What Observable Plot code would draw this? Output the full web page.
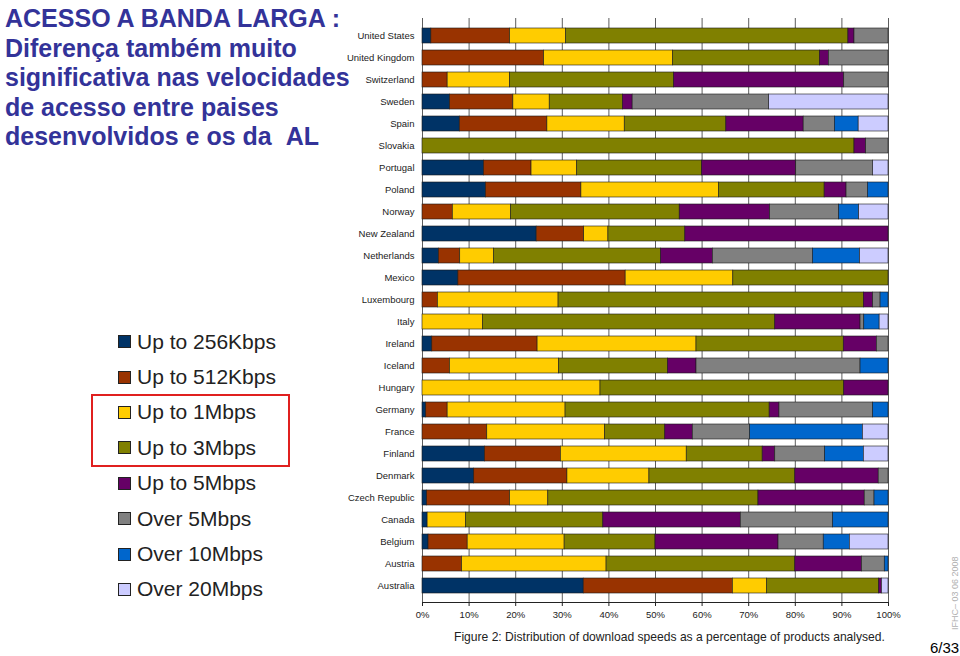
<!DOCTYPE html>
<html>
<head>
<meta charset="utf-8">
<script src="https://cdn.jsdelivr.net/npm/d3@7"></script>
<script src="https://cdn.jsdelivr.net/npm/@observablehq/plot@0.6"></script>
<style>
  html, body { margin: 0; padding: 0; background: #fff; }
  #page { position: relative; width: 960px; height: 656px; overflow: hidden; font-family: "Liberation Sans", Arial, sans-serif; }
  #chart { position: absolute; left: 0; top: 0; }
  #title { position: absolute; left: 5px; top: 4px; font-weight: bold; font-size: 25px; line-height: 29.5px; color: #333399; white-space: nowrap; }
  #legend { position: absolute; left: 118px; top: 324px; }
  .item { display: flex; align-items: center; height: 35.4px; font-size: 21px; color: #222; white-space: nowrap; }
  .sw { width: 11px; height: 11px; border: 1px solid #222; margin-right: 6px; }
  #redbox { position: absolute; left: 91px; top: 394px; width: 199px; height: 73px; border: 2px solid #e0201f; box-sizing: border-box; }
  #caption { position: absolute; left: 454px; top: 630px; font-size: 12.1px; color: #222; white-space: nowrap; }
  #pagenum { position: absolute; left: 930px; top: 639px; font-size: 15px; color: #000; }
  #stamp { position: absolute; left: 950px; top: 630px; transform-origin: 0 0; transform: rotate(-90deg); font-size: 9px; color: #b0b0b0; white-space: nowrap; }
</style>
</head>
<body>
<div id="page">
  <div id="chart"></div>
  <div id="title"></div>
  <div id="legend"></div>
  <div id="redbox"></div>
  <div id="caption"></div>
  <div id="pagenum"></div>
  <div id="stamp"></div>
</div>
<script>
const titleLines = [
  "ACESSO A BANDA LARGA :",
  "Diferença também muito",
  "significativa nas velocidades",
  "de acesso entre paises",
  "desenvolvidos e os da  AL"
];
const captionText = "Figure 2: Distribution of download speeds as a percentage of products analysed.";
const pageText = "6/33";
const stampText = "IFHC– 03 06 2008";

const countries = ["United States","United Kingdom","Switzerland","Sweden","Spain","Slovakia","Portugal","Poland","Norway","New Zealand","Netherlands","Mexico","Luxembourg","Italy","Ireland","Iceland","Hungary","Germany","France","Finland","Denmark","Czech Republic","Canada","Belgium","Austria","Australia"];
const categories = ["Up to 256Kbps","Up to 512Kbps","Up to 1Mbps","Up to 3Mbps","Up to 5Mbps","Over 5Mbps","Over 10Mbps","Over 20Mbps"];
const colors = ["#003366","#993300","#ffcc00","#808000","#660066","#808080","#0066cc","#ccccff"];

// values in percent, one per country (same order as countries)
const upTo256K = [1.9,0,0,5.9,8.0,0,13.2,13.6,0,24.5,3.5,7.7,0,0,2.1,0,0,0.8,0,13.4,11.1,1.0,1.1,1.3,0,34.6];
const upTo512K = [16.9,26.1,5.4,13.6,18.8,0,10.2,20.5,6.5,10.2,4.6,35.9,3.3,0,22.6,5.9,0,4.6,13.9,16.3,20.0,17.8,0,8.4,8.5,32.0];
const upTo1M   = [12.0,27.7,13.4,7.8,16.6,0,9.8,29.5,12.5,5.2,7.2,23.1,25.9,13.0,34.1,23.4,38.2,25.3,25.3,27.0,17.6,8.2,8.2,20.8,31.0,7.3];
const upTo3M   = [60.6,31.5,35.2,15.7,21.8,92.7,26.8,22.7,36.2,16.5,35.9,33.3,65.5,62.7,31.6,23.4,52.3,43.8,12.9,16.3,31.3,45.1,29.5,19.5,40.5,24.1];
const upTo5M   = [1.3,1.9,36.5,2.1,16.6,2.5,20.2,4.7,19.4,43.6,11.1,0,2.0,18.3,7.1,6.1,9.5,2.1,5.9,2.7,17.9,22.8,29.5,26.4,14.3,0.6];
const over5M   = [7.3,12.8,9.5,29.3,6.7,4.8,16.5,4.6,14.8,0,21.5,0,1.6,0.8,2.5,35.2,0,20.1,12.3,10.7,2.1,2.1,19.8,9.7,4.9,0];
const over10M  = [0,0,0,0,5.1,0,0,4.4,4.3,0,10.1,0,1.7,3.3,0,6.0,0,3.3,24.2,8.3,0,3.0,11.9,5.6,0.8,0];
const over20M  = [0,0,0,25.6,6.4,0,3.3,0,6.3,0,6.1,0,0,1.9,0,0,0,0,5.5,5.3,0,0,0,8.3,0,1.4];
const series = [upTo256K, upTo512K, upTo1M, upTo3M, upTo5M, over5M, over10M, over20M];

const tickPercents = [0,10,20,30,40,50,60,70,80,90,100];
const tickValues = tickPercents.map(d => d / 100);

const table = countries.flatMap((c, i) =>
  categories.map((k, j) => ({country: c, category: k, value: series[j][i]}))
);

const chart = Plot.plot({
  width: 960,
  height: 656,
  marginLeft: 422,
  marginRight: 72,
  marginTop: 18,
  marginBottom: 54,
  style: {fontFamily: "'Liberation Sans', Arial, sans-serif", fontSize: "9.5px", color: "#222", background: "transparent", overflow: "visible"},
  x: {domain: [0, 1], ticks: tickValues, tickFormat: d3.format(".0%"), tickSize: 4, tickPadding: 5, line: true, label: null},
  y: {domain: countries, padding: 0.32, tickSize: 0, tickPadding: 8, label: null},
  color: {domain: categories, range: colors},
  marks: [
    Plot.ruleX(tickValues, {stroke: "#333", strokeWidth: 0.8}),
    Plot.barX(table, Plot.stackX({
      x: "value", y: "country", fill: "category", z: "category",
      order: categories, offset: "normalize",
      stroke: "#1a1a1a", strokeWidth: 0.6
    }))
  ]
});
document.getElementById("chart").appendChild(chart);

document.getElementById("title").innerHTML = titleLines.map(t => `<div>${t.replace(/  /g, " &nbsp;")}</div>`).join("");
document.getElementById("legend").innerHTML = categories.map((k, j) =>
  `<div class="item"><div class="sw" style="background:${colors[j]}"></div><span>${k}</span></div>`).join("");
document.getElementById("caption").textContent = captionText;
document.getElementById("pagenum").textContent = pageText;
document.getElementById("stamp").textContent = stampText;
</script>
</body>
</html>
